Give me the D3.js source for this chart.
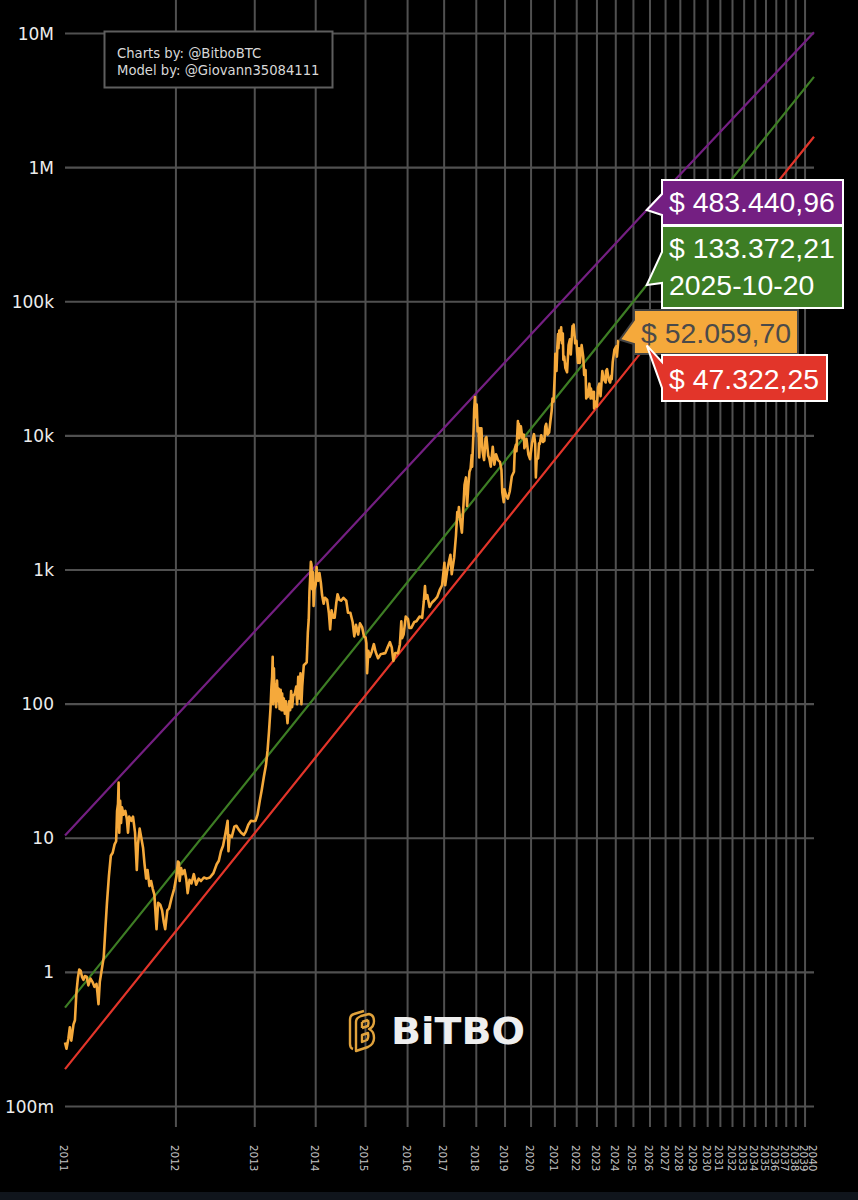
<!DOCTYPE html>
<html>
<head>
<meta charset="utf-8">
<script src="https://cdn.jsdelivr.net/npm/d3@7"></script>
<style>
  html, body { margin: 0; padding: 0; background: #000; }
  svg { display: block; }
</style>
</head>
<body>
<div id="chart"></div>
<script>
// power law chart, x axis is log of days since the genesis block
var genesis = new Date(Date.UTC(2009, 0, 3));
var oneDay = 24*60*60*1000;

var yearTicks = d3.range(2011, 2041);
var valueTicks = [0.1, 1, 10, 100, 1000, 10000, 100000, 1000000, 10000000];
var valueLabels = ["100m", "1", "10", "100", "1k", "10k", "100k", "1M", "10M"];

// model lines, read at start, label date and end
var modelDates = ["2011-01-01", "2025-10-20", "2040-01-01"];
var topModel = [10.5, 483440.96, 10200000];
var fairModel = [0.546, 133372.21, 4750000];
var floorModel = [0.19, 47322.25, 1700000];

var priceRows = [
"2011-01-01 .30","2011-01-05 .27","2011-01-10 .32","2011-01-14 .39","2011-01-18 .31","2011-01-24 .41","2011-01-28 .44","2011-02-01 .70","2011-02-05 .90","2011-02-09 1.05",
"2011-02-13 1.03","2011-02-17 .92","2011-02-21 .88","2011-02-25 .94","2011-03-02 .93","2011-03-07 .80","2011-03-13 .90","2011-03-19 .85","2011-03-25 .78","2011-03-31 .82",
"2011-04-03 .70","2011-04-06 .58","2011-04-10 .85","2011-04-16 1.05","2011-04-22 1.3","2011-04-27 2.1","2011-05-02 3.3","2011-05-08 5.2","2011-05-14 7.4","2011-05-20 7.8",
"2011-05-26 9","2011-05-31 9.5","2011-06-03 16","2011-06-06 18","2011-06-08 26","2011-06-10 11","2011-06-13 19","2011-06-16 13","2011-06-19 17","2011-06-24 15",
"2011-06-30 16","2011-07-05 14","2011-07-09 11","2011-07-13 14.5","2011-07-20 13.5","2011-07-26 14.5","2011-08-02 11","2011-08-08 5.8","2011-08-12 9","2011-08-18 11.8",
"2011-08-24 10","2011-08-30 8.5","2011-09-04 6.5","2011-09-10 5","2011-09-15 5.8","2011-09-22 4.4","2011-09-28 4.8","2011-10-04 4.2","2011-10-10 3.8","2011-10-18 2.1",
"2011-10-24 3.3","2011-11-01 3.2","2011-11-08 2.9","2011-11-14 2.4","2011-11-20 2.1","2011-11-28 2.9","2011-12-05 3","2011-12-15 3.6","2011-12-25 4.2","2012-01-03 5.2",
"2012-01-09 6.7","2012-01-13 6.6","2012-01-16 4.8","2012-01-22 6","2012-01-28 5.4","2012-02-05 5.8","2012-02-12 5","2012-02-18 3.9","2012-02-26 4.9","2012-03-05 4.6",
"2012-03-15 5.4","2012-03-25 4.5","2012-04-05 5","2012-04-15 4.8","2012-04-28 5.1","2012-05-10 5","2012-05-25 5.1","2012-06-10 5.5","2012-06-25 6.4","2012-07-05 6.8",
"2012-07-15 8","2012-07-25 8.8","2012-08-05 10.8","2012-08-16 13.5","2012-08-20 8","2012-08-26 10.5","2012-09-05 10.2","2012-09-18 12.2","2012-09-28 12.4","2012-10-10 11.6",
"2012-10-22 11","2012-11-05 10.6","2012-11-15 11.2","2012-11-28 12.6","2012-12-12 13.5","2012-12-25 13.4","2013-01-05 13.5","2013-01-16 15","2013-01-28 19","2013-02-08 23",
"2013-02-20 29","2013-03-03 35","2013-03-12 45","2013-03-20 62","2013-03-28 90","2013-04-03 135","2013-04-07 160","2013-04-10 225","2013-04-13 100","2013-04-17 185",
"2013-04-21 105","2013-04-26 140","2013-04-30 95","2013-05-05 150","2013-05-10 105","2013-05-15 130","2013-05-20 92","2013-05-26 128","2013-05-31 90","2013-06-04 120",
"2013-06-09 90","2013-06-14 110","2013-06-20 85","2013-06-26 105","2013-07-01 85","2013-07-06 72","2013-07-10 85","2013-07-16 105","2013-07-22 90","2013-07-28 125",
"2013-08-03 95","2013-08-10 115","2013-08-20 120","2013-08-28 135","2013-09-03 100","2013-09-10 160","2013-09-17 110","2013-09-24 170","2013-09-30 100","2013-10-05 135",
"2013-10-15 195","2013-10-25 200","2013-11-03 205","2013-11-10 340","2013-11-16 430","2013-11-21 700","2013-11-26 900","2013-11-30 1150","2013-12-04 1100","2013-12-09 720",
"2013-12-14 960","2013-12-18 540","2013-12-24 720","2014-01-01 780","2014-01-07 1050","2014-01-11 860","2014-01-17 830","2014-01-26 950","2014-02-05 800","2014-02-13 650",
"2014-02-24 560","2014-03-05 620","2014-03-20 600","2014-04-01 480","2014-04-10 360","2014-04-20 500","2014-05-01 440","2014-05-12 440","2014-05-24 570","2014-06-02 660",
"2014-06-15 600","2014-06-28 590","2014-07-15 620","2014-08-05 590","2014-08-18 480","2014-09-05 480","2014-09-22 410","2014-10-05 320","2014-10-18 390","2014-11-04 330",
"2014-11-18 400","2014-12-05 375","2014-12-20 320","2015-01-01 315","2015-01-08 285","2015-01-14 170","2015-01-24 250","2015-02-05 225","2015-02-20 245","2015-03-10 280",
"2015-03-25 245","2015-04-14 220","2015-05-05 235","2015-05-25 238","2015-06-15 240","2015-07-05 265","2015-07-25 290","2015-08-10 265","2015-08-24 210","2015-09-10 240",
"2015-10-05 240","2015-10-22 280","2015-11-04 415","2015-11-11 310","2015-11-25 330","2015-12-15 450","2016-01-05 430","2016-01-16 370","2016-02-05 370","2016-03-05 410",
"2016-03-25 415","2016-04-25 450","2016-05-20 440","2016-06-05 580","2016-06-17 760","2016-06-25 610","2016-07-10 650","2016-08-02 530","2016-08-25 570","2016-09-25 600",
"2016-10-20 630","2016-11-15 710","2016-12-10 770","2017-01-04 1130","2017-01-12 770","2017-02-01 970","2017-02-25 1180","2017-03-10 1300","2017-03-24 930","2017-04-20 1240",
"2017-05-10 1800","2017-05-25 2700","2017-06-05 2500","2017-06-12 2950","2017-06-25 2400","2017-07-16 1900","2017-08-05 3200","2017-08-15 4300","2017-09-01 4900","2017-09-14 3000",
"2017-09-28 4200","2017-10-12 5400","2017-10-25 5700","2017-11-07 7200","2017-11-12 5900","2017-11-29 10800","2017-12-07 16000","2017-12-16 19500","2017-12-22 13800","2018-01-06 17100",
"2018-01-17 10800","2018-01-28 11500","2018-02-06 6900","2018-02-20 11400","2018-03-04 11400","2018-03-17 7800","2018-03-31 6900","2018-04-06 6600","2018-04-24 9600","2018-05-05 9800",
"2018-05-28 7100","2018-06-10 6800","2018-06-29 5900","2018-07-24 8300","2018-08-14 6100","2018-09-04 7300","2018-09-30 6600","2018-10-25 6400","2018-11-14 5600","2018-11-25 3800",
"2018-12-15 3200","2018-12-24 4000","2019-01-15 3600","2019-02-07 3400","2019-03-05 3850","2019-04-03 5000","2019-05-02 5400","2019-05-14 8000","2019-05-30 8600","2019-06-06 7700",
"2019-06-26 12900","2019-07-02 10000","2019-07-10 12300","2019-07-17 9600","2019-08-06 11800","2019-08-28 9600","2019-09-18 10200","2019-09-26 8100","2019-10-10 8500","2019-10-26 9500",
"2019-11-22 7300","2019-12-17 6700","2020-01-14 8800","2020-02-13 10300","2020-03-02 8800","2020-03-12 4900","2020-03-24 6700","2020-04-15 6800","2020-04-29 8800","2020-05-10 8700",
"2020-06-01 10100","2020-06-27 9000","2020-07-20 9200","2020-08-02 11700","2020-08-17 12300","2020-09-05 10200","2020-10-01 10600","2020-10-21 12800","2020-11-10 15300","2020-11-24 19000",
"2020-12-11 18000","2020-12-31 29000","2021-01-08 41000","2021-01-27 30500","2021-02-10 46500","2021-02-21 57500","2021-02-28 45000","2021-03-13 61000","2021-03-25 52000","2021-04-13 64500",
"2021-04-25 49000","2021-05-10 58000","2021-05-19 37000","2021-06-03 39000","2021-06-22 32000","2021-07-20 29800","2021-08-14 47500","2021-09-06 52500","2021-09-21 40500","2021-10-20 66000",
"2021-10-28 58000","2021-11-09 67500","2021-11-28 54000","2021-12-05 49000","2021-12-27 51000","2022-01-10 41000","2022-01-24 35000","2022-02-10 45000","2022-02-24 35000","2022-03-28 47500",
"2022-04-25 39000","2022-05-12 28500","2022-06-06 31000","2022-06-18 19000","2022-07-08 21800","2022-07-13 19500","2022-08-14 24500","2022-09-06 19000","2022-09-12 22500","2022-10-13 19000",
"2022-11-05 21300","2022-11-09 16000","2022-12-14 18000","2022-12-30 16500","2023-01-22 23000","2023-02-15 24500","2023-03-10 19800","2023-04-13 30400","2023-05-11 26500","2023-06-15 25000",
"2023-06-23 30500","2023-07-13 31400","2023-08-17 26000","2023-09-11 25000","2023-10-02 28000","2023-10-12 26500","2023-11-01 35500","2023-12-05 44000","2024-01-10 46500","2024-01-23 39000",
"2024-02-08 45300","2024-02-20 52059.70"
];

var labelDate = modelDates[1];
var priceLabel = "$ 52.059,70";
var topLabel = "$ 483.440,96";
var fairLabel = "$ 133.372,21";
var floorLabel = "$ 47.322,25";

var creditLines = ["Charts by: @BitboBTC", "Model by: @Giovann35084111"];

var width = 858, height = 1200;
var colors = {
  grid: "#505050", price: "#f5a93b", top: "#741f82", fair: "#3d7d24", floor: "#e2352a",
  tick: "#ececec", yearTick: "#c4c4c4", labelEdge: "#fff", darkEdge: "#444"
};

function daysOf(str) {
  var p = str.split("-");
  return (Date.UTC(+p[0], +p[1]-1, +p[2]) - genesis) / oneDay;
}

var x = d3.scaleLog().domain([daysOf("2011-01-01"), daysOf("2040-01-01")]).range([65, 814]);
var y = d3.scaleLog().domain([0.1, 10000000]).range([1106.5, 33.5]);

var svg = d3.select("#chart").append("svg").attr("width", width).attr("height", height);
svg.append("rect").attr("width", width).attr("height", height).attr("fill", "#000");
svg.append("rect").attr("y", 1192).attr("width", width).attr("height", 8).attr("fill", "#10151c");

// grid
var gridLayer = svg.append("g");
gridLayer.selectAll("line.v").data(yearTicks.slice(1, -1)).enter().append("line")
  .attr("class", "v")
  .attr("x1", function(d) { return x(daysOf(d + "-01-01")); })
  .attr("x2", function(d) { return x(daysOf(d + "-01-01")); })
  .attr("y1", 0).attr("y2", 1127)
  .attr("stroke", colors.grid).attr("stroke-width", 2);
gridLayer.selectAll("line.h").data(valueTicks).enter().append("line")
  .attr("class", "h")
  .attr("x1", 65).attr("x2", 814)
  .attr("y1", function(d) { return y(d); })
  .attr("y2", function(d) { return y(d); })
  .attr("stroke", colors.grid).attr("stroke-width", 2.2);

// axis labels
svg.selectAll("text.vt").data(valueTicks).enter().append("text")
  .attr("class", "vt")
  .attr("x", 54).attr("y", function(d) { return y(d) + 6; })
  .attr("text-anchor", "end")
  .attr("font-family", "'DejaVu Sans', sans-serif").attr("font-size", 17)
  .attr("fill", colors.tick)
  .text(function(d, i) { return valueLabels[i]; });

svg.selectAll("text.yt").data(yearTicks).enter().append("text")
  .attr("class", "yt")
  .attr("transform", function(d) { return "translate(" + (x(daysOf(d + "-01-01")) - 5) + ",1145) rotate(90)"; })
  .attr("font-family", "'DejaVu Sans', sans-serif").attr("font-size", 10.4)
  .attr("fill", colors.yearTick)
  .text(function(d) { return d; });

// model lines
var line = d3.line().x(function(d) { return x(d[0]); }).y(function(d) { return y(d[1]); });
[[topModel, colors.top], [fairModel, colors.fair], [floorModel, colors.floor]].forEach(function(m) {
  svg.append("path")
    .attr("d", line(modelDates.map(function(s, i) { return [daysOf(s), m[0][i]]; })))
    .attr("fill", "none").attr("stroke", m[1]).attr("stroke-width", 2.2);
});

// price
var price = priceRows.map(function(r) {
  var p = r.split(" ");
  return [daysOf(p[0]), +p[1]];
});
svg.append("path").attr("d", line(price))
  .attr("fill", "none").attr("stroke", colors.price).attr("stroke-width", 2.6)
  .attr("stroke-linejoin", "round");

// logo
var logo = svg.append("g").attr("transform", "translate(349,1010)")
  .attr("fill", "none").attr("stroke", "#e0a23c").attr("stroke-width", 2.4).attr("stroke-linejoin", "round");
logo.append("path").attr("d", "M15 1 L5 4 Q1 5 1 10 L1 34 Q1 38 4 39");
logo.append("path").attr("d", "M20 4 L12 6 Q7 8 7 12 L7 38 L7 41 L19 37 Q25 34 25 28 Q25 21 20 19 Q25 17 25 11 Q25 5 20 4 Z");
logo.append("path").attr("d", "M13 12 L19 10 M13 18 L19 16 Q20 13 19 10 M13 12 L13 18 M13 25 L19 23 Q20 27 18 30 L13 32 Z");
svg.append("text")
  .attr("x", 391).attr("y", 1044)
  .attr("font-family", "'DejaVu Sans', sans-serif").attr("font-weight", "bold").attr("font-size", 38)
  .attr("fill", "#efefef").attr("textLength", 134).attr("lengthAdjust", "spacingAndGlyphs")
  .text("BiTBO");

// credit box
svg.append("rect").attr("x", 104.5).attr("y", 31.5).attr("width", 228).attr("height", 56)
  .attr("fill", "#000").attr("stroke", "#5e5e5e").attr("stroke-width", 2);
svg.selectAll("text.credit").data(creditLines).enter().append("text")
  .attr("class", "credit")
  .attr("x", 117).attr("y", function(d, i) { return 58 + i*17; })
  .attr("font-family", "'DejaVu Sans', sans-serif").attr("font-size", 13.2)
  .attr("fill", "#d8d8d8")
  .text(function(d) { return d; });

// callouts, tip sits on the data point
function callout(tipX, tipY, box, wing, fill, edge, textFill, lines) {
  var pts = [[tipX, tipY], [box.x, wing[0]], [box.x, box.y], [box.x + box.w, box.y],
             [box.x + box.w, box.y + box.h], [box.x, box.y + box.h], [box.x, wing[1]]];
  svg.append("path").attr("d", d3.line()(pts) + "Z")
    .attr("fill", fill).attr("stroke", edge).attr("stroke-width", 2);
  lines.forEach(function(t, i) {
    svg.append("text")
      .attr("x", box.tx).attr("y", box.ty + i*37)
      .attr("font-family", "'Liberation Sans', Arial, sans-serif").attr("font-size", 28.4)
      .attr("fill", textFill)
      .text(t);
  });
}

var labelX = x(daysOf(labelDate));
var last = price[price.length - 1];
callout(x(last[0]) + 1.5, y(last[1]), {x: 634, y: 310, w: 164, h: 44, tx: 641, ty: 343}, [320, 344],
  colors.price, colors.darkEdge, "#4a4a4a", [priceLabel]);
callout(labelX, y(topModel[1]), {x: 662, y: 180, w: 181, h: 45, tx: 669, ty: 212}, [194, 215],
  colors.top, colors.labelEdge, "#fff", [topLabel]);
callout(labelX, y(fairModel[1]), {x: 662, y: 226, w: 181, h: 82, tx: 669, ty: 258}, [252, 283],
  colors.fair, colors.labelEdge, "#fff", [fairLabel, labelDate]);
callout(labelX, y(floorModel[1]), {x: 662, y: 355, w: 165, h: 46, tx: 669, ty: 389}, [362, 388],
  colors.floor, colors.labelEdge, "#fff", [floorLabel]);
</script>
</body>
</html>
